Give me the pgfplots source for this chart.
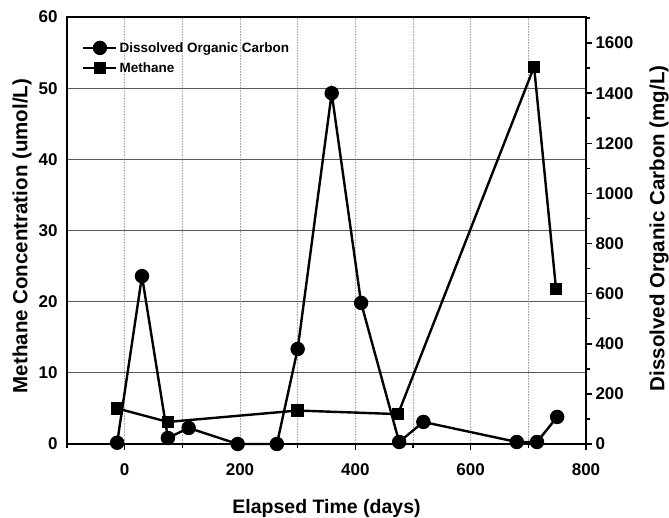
\documentclass[border=0pt]{standalone}
\usepackage{pgfplots}
\pgfplotsset{compat=1.18}
\usepackage{fontspec}
\setmainfont{Liberation Sans}

% Methane concentration (umol/L) against elapsed time (days)
\pgfplotstableread{
t    ch4
-13  5.0
75   3.1
300  4.7
474  4.2
710  53.0
748  21.8
}\methane

% Dissolved organic carbon (mg/L) against elapsed time (days)
\pgfplotstableread{
t    doc
-13  5
30   670
75   24
111  64
196  0
264  0
300  379
359  1400
410  563
476  8
518  88
680  8
715  8
750  108
}\doc

\pgfplotsset{
  common/.style={
    scale only axis, width=519pt, height=427pt,
    xmin=-100, xmax=800,
    clip=false,
    axis line style={line width=2.4pt},
    tick align=outside,
    major tick length=6pt, minor tick length=4pt,
    tick style={line width=1.5pt, black},
    ticklabel style={font=\bfseries\fontsize{17}{17}\selectfont},
    label style={font=\bfseries\fontsize{20.5}{21}\selectfont},
    /pgf/number format/assume math mode=true,
    /pgf/number format/1000 sep={},
  },
  ch4line/.style={black, line width=2.4pt, mark=square*, mark size=5pt, mark options={solid}},
  docline/.style={black, line width=2.4pt, mark=*, mark size=6pt, mark options={solid}},
}

\begin{document}
\begin{tikzpicture}
\useasboundingbox (-67pt,-74pt) rectangle (602pt,444pt);

\begin{axis}[
  common,
  ymin=0, ymax=60,
  xtick={0,200,400,600,800},
  minor xtick={-100,100,300,500,700},
  ytick={0,10,...,60},
  xtick pos=bottom, ytick pos=left,
  ytick style={draw=none},
  xticklabel style={yshift=-10pt},
  xmajorgrids, xminorgrids, ymajorgrids,
  x grid style={gray!70, line width=0.6pt, densely dotted},
  y grid style={black!65, line width=0.9pt},
  xlabel={Elapsed Time (days)},
  ylabel={Methane Concentration (umol/L)},
  xlabel style={at={(axis description cs:0.5,-0.150)}, anchor=center,
    font=\bfseries\fontsize{19.5}{20}\selectfont},
  ylabel style={at={(axis description cs:-0.0867,0.487)}, anchor=center},
]
\addplot[ch4line] table[x=t, y=ch4] {\methane};
\end{axis}

\begin{axis}[
  common,
  ymin=0, ymax=1704,
  axis x line=none,
  axis y line*=right,
  ytick={0,200,...,1600},
  minor ytick={100,300,...,1700},
  ylabel={Dissolved Organic Carbon (mg/L)},
  ylabel style={at={(axis description cs:1.1407,0.505)}, anchor=center},
  legend style={at={(0.029,0.946)}, anchor=north west, draw=none, fill=none,
    inner sep=0pt, font=\bfseries\fontsize{13.5}{14}\selectfont, row sep=5pt,
    legend cell align=left},
  legend image code/.code={%
    \draw[mark repeat=2, mark phase=2, #1]
      plot coordinates {(0pt,0pt) (16.5pt,0pt) (33pt,0pt)};},
]
\addplot[docline] table[x=t, y=doc] {\doc};
\addlegendentry{Dissolved Organic Carbon}
\addlegendimage{ch4line}
\addlegendentry{Methane}
\end{axis}
\end{tikzpicture}
\end{document}
